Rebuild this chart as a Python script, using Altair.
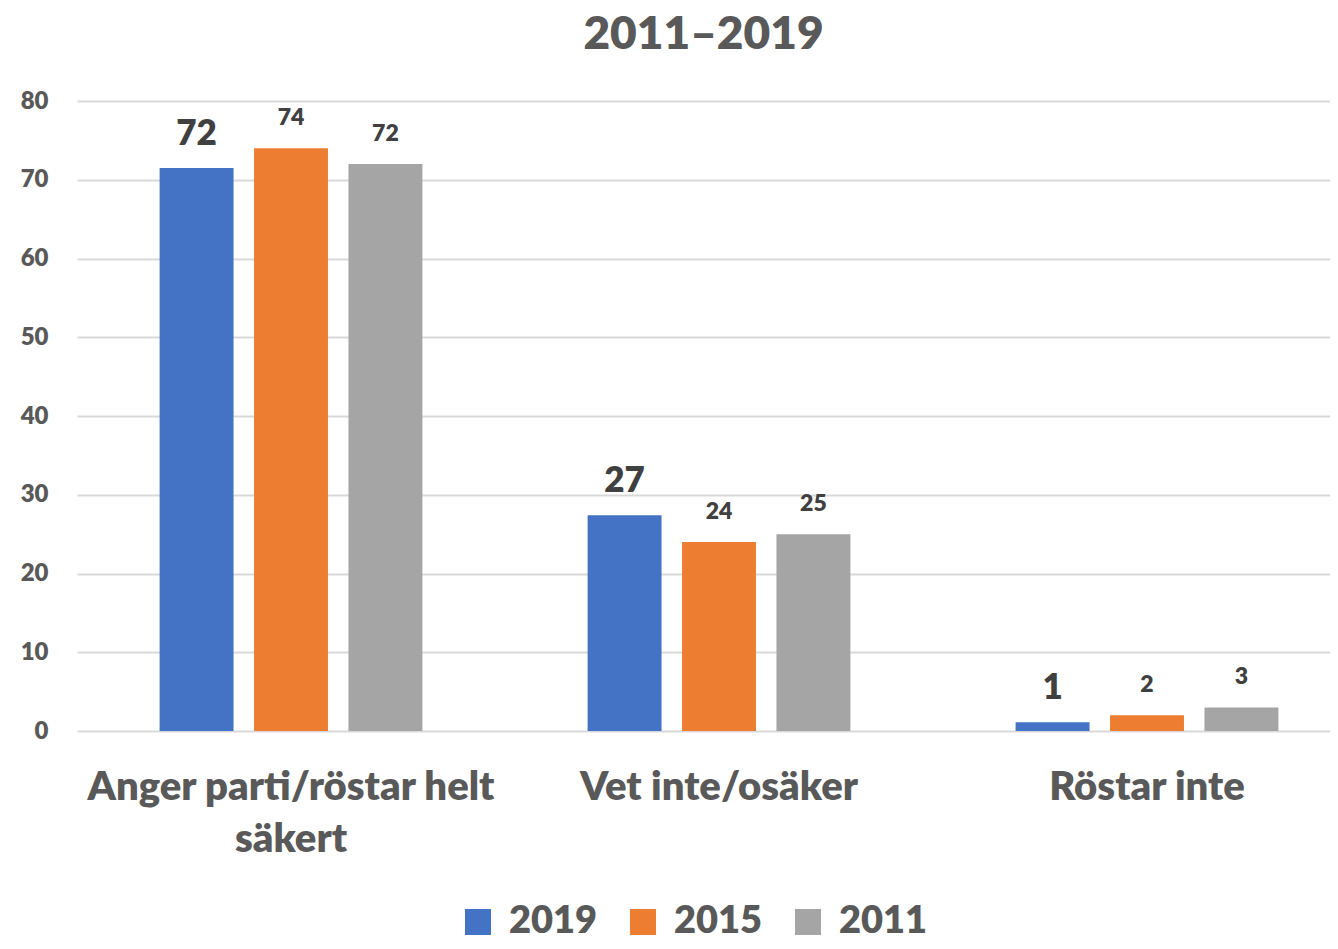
import altair as alt
import pandas as pd

categories = ["Anger parti/röstar helt säkert", "Vet inte/osäker", "Röstar inte"]
series = ["2019", "2015", "2011"]
values_2019 = [71.5, 27.4, 1.1]
values_2015 = [74, 24, 2]
values_2011 = [72, 25, 3]
labels_2019 = [72, 27, 1]
labels_2015 = [74, 24, 2]
labels_2011 = [72, 25, 3]
colors = ["#4472C4", "#ED7D31", "#A5A5A5"]
label_sizes = [35, 23, 23]

rows = []
for s, vals, labs, fs in zip(series, [values_2019, values_2015, values_2011],
                             [labels_2019, labels_2015, labels_2011], label_sizes):
    for c, v, l in zip(categories, vals, labs):
        rows.append({"category": c, "series": s, "value": v, "label": str(l), "fs": fs})
df = pd.DataFrame(rows)

FONT = "Lato"
W = 800
x_enc = alt.X("category:N", sort=categories,
              scale=alt.Scale(range=[0, 1284], paddingInner=0.386, paddingOuter=0.193),
              axis=alt.Axis(title=None, labelAngle=0, ticks=False, domain=False,
                            labelFont=FONT, labelFontSize=40, labelFontWeight=W,
                            labelColor="#595959", labelPadding=36, labelLimit=700,
                            labelLineHeight=52,
                            labelExpr="datum.label == 'Anger parti/röstar helt säkert' ? ['Anger parti/röstar helt', 'säkert'] : datum.label"))
xo_enc = alt.XOffset("series:N", sort=series,
                     scale=alt.Scale(paddingInner=0.217, paddingOuter=0))
y_enc = alt.Y("value:Q", scale=alt.Scale(domain=[0, 80]),
              axis=alt.Axis(title=None, values=list(range(0, 81, 10)), ticks=False, domain=False,
                            labelFont=FONT, labelFontSize=24, labelFontWeight=W,
                            labelColor="#595959", labelPadding=29,
                            grid=True, gridColor="#D9D9D9", gridWidth=2))

bars = alt.Chart(df).mark_bar().encode(
    x=x_enc, xOffset=xo_enc, y=y_enc,
    color=alt.Color("series:N", sort=series,
                    scale=alt.Scale(domain=series, range=colors),
                    legend=alt.Legend(title=None, orient="none", direction="horizontal",
                                      legendX=382, legendY=802, padding=0,
                                      symbolType="square", symbolSize=676, symbolStrokeWidth=0,
                                      labelFont=FONT, labelFontSize=38, labelFontWeight=W,
                                      labelColor="#595959", labelOffset=12, columnPadding=26)),
)

texts = alt.Chart(df).mark_text(font=FONT, fontWeight=W, color="#404040",
                                baseline="alphabetic", dy=-23).encode(
    x=alt.X("category:N", sort=categories),
    xOffset=alt.XOffset("series:N", sort=series),
    y=alt.Y("value:Q"),
    text="label:N",
    size=alt.Size("fs:Q", scale=None),
)

chart = alt.layer(bars, texts).properties(
    width=1253, height=630,
    title=alt.TitleParams("2011–2019", font=FONT, fontSize=46, fontWeight=W,
                          color="#595959", anchor="middle", offset=30),
    autosize=alt.AutoSizeParams(type="none"),
    padding={"left": 69, "top": 93, "right": 0, "bottom": 210},
).configure_view(stroke=None)

chart.save("out.html", embed_options={"renderer": "svg", "actions": False})
